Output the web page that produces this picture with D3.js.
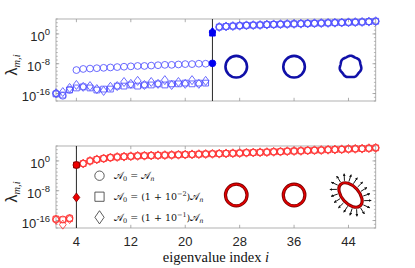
<!DOCTYPE html>
<html>
<head>
<meta charset="utf-8">
<script src="https://cdn.jsdelivr.net/npm/d3@7"></script>
<style>
  body { margin: 0; background: #fff; }
  svg { display: block; }
</style>
</head>
<body>
<div id="chart"></div>
<script>
// eigenvalue index i = 1..48, values are log10(lambda)
var index = d3.range(1, 49);

// top panel (blue)
var topLowCircle = [-16.0, -16.6, -15.0];
var topMidCircle = [-9.7, -9.4, -9.3, -9.2, -9.1, -9.0, -8.9, -8.8, -8.7, -8.6,
                    -8.6, -8.5, -8.4, -8.3, -8.3, -8.2, -8.1, -8.1, -8.0, -8.0];
var topLowSquare = [-16.1, -16.4, -15.05, -14.5, -14.2, -14.5, -15.05, -14.8, -14.8, -14.0, -14.0, -13.7,
                    -14.0, -13.7, -13.7, -13.4, -13.7, -13.4, -13.4, -13.2, -13.4, -13.2, -13.2];
var topLowDiamond = [-15.9, -15.6, -14.5, -13.7, -14.2, -14.0, -14.8, -15.3, -14.2, -14.0, -12.9, -13.4,
                     -12.6, -13.7, -12.9, -13.4, -12.4, -13.7, -12.9, -13.4, -12.4, -13.4, -12.6];
var topCut = 24;           // first non-zero eigenvalue, highlighted
var topCutCircle = -7.9, topCutSquare = 0.2, topCutDiamond = 0.5;
var topUpper = [1.85, 2.0, 2.1, 2.2, 2.3, 2.35, 2.4, 2.5, 2.55, 2.6, 2.65, 2.7,
                2.75, 2.8, 2.85, 2.9, 2.95, 3.0, 3.05, 3.1, 3.15, 3.2, 3.3, 3.4];

// bottom panel (red)
var botLowCircle = [-15.6, -15.7, -15.3];
var botLowSquare = [-15.6, -15.8, -15.5];
var botLowDiamond = [-15.8, -17.1, -15.6];
var botCut = 4;
var botCutCircle = -1.1, botCutSquare = -1.1, botCutDiamond = -9.8;
var botUpper = [-0.7, 0.0, 0.4, 0.65, 0.9, 1.05, 1.15, 1.25, 1.35, 1.4, 1.45, 1.5,
                1.55, 1.6, 1.65, 1.7, 1.75, 1.8, 1.85, 1.9,
                1.95, 2.0, 2.05, 2.1, 2.2, 2.25, 2.3, 2.35, 2.45, 2.5, 2.6, 2.65,
                2.7, 2.8, 2.85, 2.9, 3.0, 3.05, 3.1, 3.2, 3.25, 3.3, 3.4, 3.5];

var xTicks = [4, 12, 20, 28, 36, 44];
var yTicks = [0, -8, -16];
var legendLabels = ["0 = ", "0 = (1 + 10", "0 = (1 + 10"];
var legendExp = [null, "\u22122", "\u22121"];

var topCircle = topLowCircle.concat(topMidCircle, [topCutCircle], topUpper);
var topSquare = topLowSquare.concat([topCutSquare], topUpper);
var topDiamond = topLowDiamond.concat([topCutDiamond], topUpper);
var botCircle = botLowCircle.concat([botCutCircle], botUpper);
var botSquare = botLowSquare.concat([botCutSquare], botUpper);
var botDiamond = botLowDiamond.concat([botCutDiamond], botUpper);

var W = 415, H = 268;
var svg = d3.select("#chart").append("svg").attr("width", W).attr("height", H)
  .style("font-family", "'Liberation Sans', Arial, sans-serif");

var x = d3.scaleLinear().domain([1, 48]).range([56, 375.7]);

// marker shapes
function circ(r) { return "M" + r + ",0A" + r + "," + r + " 0 1,1 " + (-r) + ",0A" + r + "," + r + " 0 1,1 " + r + ",0Z"; }
function sq(h) { return "M" + (-h) + "," + (-h) + "H" + h + "V" + h + "H" + (-h) + "Z"; }
function dia(w, h) { return "M0," + (-h) + "L" + w + ",0L0," + h + "L" + (-w) + ",0Z"; }
var mCircle = circ(3.4), mSquare = sq(2.9), mDiamond = dia(3.4, 4.5);

function panel(top, bottom, series, cut, col, fillCol, fillStroke) {
  var y = d3.scaleLog().domain([1e-18, 1e4]).range([bottom, top]);
  var g = svg.append("g");

  // box
  g.append("rect").attr("x", x.range()[0]).attr("y", top)
    .attr("width", x.range()[1] - x.range()[0]).attr("height", bottom - top)
    .attr("fill", "none").attr("stroke", "#a8a8a8").attr("stroke-width", 0.9);

  // minor ticks every decade, both sides
  var decades = d3.range(-18, 5);
  [[x.range()[0], 1], [x.range()[1], -1]].forEach(function (s) {
    g.selectAll(null).data(decades).enter().append("line")
      .attr("x1", s[0]).attr("x2", s[0] + s[1] * 1.8)
      .attr("y1", function (d) { return y(Math.pow(10, d)); })
      .attr("y2", function (d) { return y(Math.pow(10, d)); })
      .attr("stroke", "#999").attr("stroke-width", 0.7);
    g.selectAll(null).data(yTicks).enter().append("line")
      .attr("x1", s[0]).attr("x2", s[0] + s[1] * 3.2)
      .attr("y1", function (d) { return y(Math.pow(10, d)); })
      .attr("y2", function (d) { return y(Math.pow(10, d)); })
      .attr("stroke", "#999").attr("stroke-width", 0.8);
  });
  [[bottom, -1], [top, 1]].forEach(function (s) {
    g.selectAll(null).data(xTicks).enter().append("line")
      .attr("x1", function (d) { return x(d); }).attr("x2", function (d) { return x(d); })
      .attr("y1", s[0]).attr("y2", s[0] + s[1] * 3.2)
      .attr("stroke", "#999").attr("stroke-width", 0.8);
  });

  // y tick labels 10^k
  var yl = g.selectAll(null).data(yTicks).enter().append("text")
    .attr("x", 50).attr("y", function (d) { return y(Math.pow(10, d)) + 7.5; })
    .attr("text-anchor", "end").attr("font-size", 13).attr("fill", "#262626");
  yl.append("tspan").text("10");
  yl.append("tspan").attr("dy", -6).attr("font-size", 9.5).text(function (d) { return d; });

  // vertical separation line
  g.append("line").attr("x1", x(cut)).attr("x2", x(cut)).attr("y1", top).attr("y2", bottom)
    .attr("stroke", "#111").attr("stroke-width", 0.9);

  // open markers
  var shapes = [[series[2], mDiamond], [series[1], mSquare], [series[0], mCircle]];
  shapes.forEach(function (s) {
    g.selectAll(null).data(s[0].map(function (v, k) { return { i: index[k], v: v }; })
        .filter(function (d) { return d.i !== cut; }))
      .enter().append("path")
      .attr("d", s[1])
      .attr("transform", function (d) { return "translate(" + x(d.i) + "," + y(Math.pow(10, d.v)) + ")"; })
      .attr("fill", "none").attr("stroke", col).attr("stroke-width", 0.85);
  });
  // highlighted markers at the cut
  shapes.forEach(function (s) {
    var v = s[0][cut - 1];
    g.append("path").attr("d", s[1])
      .attr("transform", "translate(" + x(cut) + "," + y(Math.pow(10, v)) + ")")
      .attr("fill", fillCol).attr("stroke", fillStroke).attr("stroke-width", 0.8);
  });

  // y label
  var lab = g.append("text")
    .attr("transform", "translate(17," + ((top + bottom) / 2 + 5) + ") rotate(-90)")
    .attr("text-anchor", "middle").attr("fill", "#262626");
  lab.append("tspan").attr("font-size", 16).text("\u03bb");
  lab.append("tspan").attr("dy", 3).attr("font-size", 10.5)
    .attr("font-family", "'Liberation Serif', serif").attr("font-style", "italic").text("m,i");
  return y;
}

var yTop = panel(19, 101, [topCircle, topSquare, topDiamond], topCut, "#5050ff", "#0000f0", "#0000f0");
var yBot = panel(146, 228, [botCircle, botSquare, botDiamond], botCut, "#ff3535", "#ee0000", "#7a0000");

// x tick labels (bottom panel)
svg.selectAll(null).data(xTicks).enter().append("text")
  .attr("x", function (d) { return x(d); }).attr("y", 246)
  .attr("text-anchor", "middle").attr("font-size", 13).attr("fill", "#262626")
  .text(function (d) { return d; });

svg.append("text").attr("x", 216).attr("y", 261.5)
  .attr("text-anchor", "middle").attr("font-size", 14.5)
  .attr("font-family", "'Liberation Serif', 'DejaVu Serif', serif").attr("fill", "#111")
  .text("eigenvalue index ").append("tspan").attr("font-style", "italic").text("i");

// shape sketches
var shapeX = [27.5, 36, 44.3];
var shapeTopY = 66.7, shapeBotY = 195;
shapeX.forEach(function (sx, k) {
  if (k < 2) {
    svg.append("circle").attr("cx", x(sx)).attr("cy", shapeTopY).attr("r", 10.8)
      .attr("fill", "none").attr("stroke", "#1010a8").attr("stroke-width", 2.6);
  } else {
    var wob = d3.lineRadial().curve(d3.curveLinearClosed)
      .angle(function (a) { return a; })
      .radius(function (a) { return 10.6 + 0.35 * Math.cos(7 * a); });
    svg.append("path").attr("d", wob(d3.range(0, 2 * Math.PI, 0.05)))
      .attr("transform", "translate(" + x(sx) + "," + shapeTopY + ")")
      .attr("fill", "none").attr("stroke", "#1010a8").attr("stroke-width", 2.6);
  }
});

// arrowhead
svg.append("defs").append("marker").attr("id", "ah")
  .attr("viewBox", "0 0 6 6").attr("refX", 5).attr("refY", 3)
  .attr("markerWidth", 3.2).attr("markerHeight", 3.2).attr("orient", "auto")
  .append("path").attr("d", "M0,0L6,3L0,6Z").attr("fill", "#111");

var ell = svg.append("g").attr("transform", "translate(" + x(44.3) + "," + shapeBotY + ") rotate(48)");
d3.range(0, 18).forEach(function (k) {
  var t = k / 18 * 2 * Math.PI + 0.1, a = 14.5, b = 8.6;
  var px = a * Math.cos(t), py = b * Math.sin(t);
  var nx = b * Math.cos(t), ny = a * Math.sin(t), nl = Math.hypot(nx, ny);
  var L = 9;
  ell.append("line").attr("x1", px + nx / nl * 2).attr("y1", py + ny / nl * 2)
    .attr("x2", px + nx / nl * L).attr("y2", py + ny / nl * L)
    .attr("stroke", "#111").attr("stroke-width", 0.9).attr("marker-end", "url(#ah)");
});
[[0, 10.8, 10.8], [1, 10.8, 10.8]].forEach(function (c) {
  [["#7a0000", 3.2], ["#e00000", 1.5]].forEach(function (st) {
    svg.append("ellipse").attr("cx", x(shapeX[c[0]])).attr("cy", shapeBotY).attr("rx", c[1]).attr("ry", c[2])
      .attr("fill", "none").attr("stroke", st[0]).attr("stroke-width", st[1]);
  });
});
[["#7a0000", 3.2], ["#e00000", 1.5]].forEach(function (st) {
  ell.append("ellipse").attr("rx", 14.5).attr("ry", 8.6)
    .attr("fill", "none").attr("stroke", st[0]).attr("stroke-width", st[1]);
});

// legend
var legY = [175.7, 196.7, 217.3];
var legShapes = [circ(4.7), sq(4.6), dia(4.6, 6.6)];
legShapes.forEach(function (p, k) {
  svg.append("path").attr("d", p).attr("transform", "translate(99.5," + legY[k] + ")")
    .attr("fill", "none").attr("stroke", "#333").attr("stroke-width", 0.8);
  var t = svg.append("text").attr("x", 114).attr("y", legY[k] + 3.5)
    .attr("font-size", 9.5).attr("font-family", "'DejaVu Serif', 'Liberation Serif', serif").attr("fill", "#111");
  t.append("tspan").text("\ud835\udc9c");
  t.append("tspan").attr("font-size", 6.5).attr("dy", 2).text("0");
  t.append("tspan").attr("dy", -2).text(legendLabels[k].slice(1));
  if (legendExp[k]) {
    t.append("tspan").attr("font-size", 6.5).attr("dy", -4).text(legendExp[k]);
    t.append("tspan").attr("dy", 4).text(")");
  }
  t.append("tspan").text("\ud835\udc9c");
  t.append("tspan").attr("font-size", 6.5).attr("dy", 2).attr("font-style", "italic").text("n");
});
</script>
</body>
</html>
